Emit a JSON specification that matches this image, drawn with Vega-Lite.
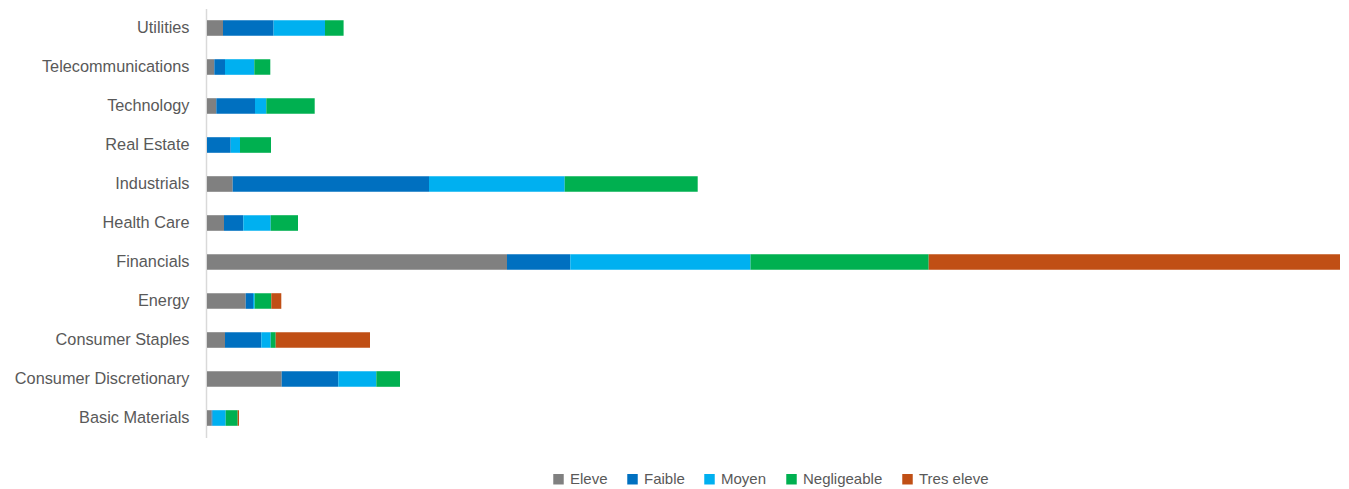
{
  "$schema": "https://vega.github.io/schema/vega-lite/v6.json",
  "width": 1134,
  "height": 429,
  "autosize": {"type": "none"},
  "padding": {"left": 206, "top": 8.5, "right": 9, "bottom": 51.5},
  "background": "white",
  "config": {
    "view": {"stroke": null},
    "font": "Liberation Sans"
  },
  "data": {
    "values": [
      {"sector": "Utilities", "risk": "Eleve", "value": 16},
      {"sector": "Utilities", "risk": "Faible", "value": 50.6},
      {"sector": "Utilities", "risk": "Moyen", "value": 51.4},
      {"sector": "Utilities", "risk": "Negligeable", "value": 18.6},
      {"sector": "Telecommunications", "risk": "Eleve", "value": 7.3},
      {"sector": "Telecommunications", "risk": "Faible", "value": 10.7},
      {"sector": "Telecommunications", "risk": "Moyen", "value": 29.3},
      {"sector": "Telecommunications", "risk": "Negligeable", "value": 16},
      {"sector": "Technology", "risk": "Eleve", "value": 9.3},
      {"sector": "Technology", "risk": "Faible", "value": 38.7},
      {"sector": "Technology", "risk": "Moyen", "value": 11.3},
      {"sector": "Technology", "risk": "Negligeable", "value": 48.4},
      {"sector": "Real Estate", "risk": "Faible", "value": 23.7},
      {"sector": "Real Estate", "risk": "Moyen", "value": 9.3},
      {"sector": "Real Estate", "risk": "Negligeable", "value": 31},
      {"sector": "Industrials", "risk": "Eleve", "value": 25.7},
      {"sector": "Industrials", "risk": "Faible", "value": 196.3},
      {"sector": "Industrials", "risk": "Moyen", "value": 135.7},
      {"sector": "Industrials", "risk": "Negligeable", "value": 133},
      {"sector": "Health Care", "risk": "Eleve", "value": 17},
      {"sector": "Health Care", "risk": "Faible", "value": 19.3},
      {"sector": "Health Care", "risk": "Moyen", "value": 27.4},
      {"sector": "Health Care", "risk": "Negligeable", "value": 27.3},
      {"sector": "Financials", "risk": "Eleve", "value": 300},
      {"sector": "Financials", "risk": "Faible", "value": 63.3},
      {"sector": "Financials", "risk": "Moyen", "value": 180.2},
      {"sector": "Financials", "risk": "Negligeable", "value": 178.2},
      {"sector": "Financials", "risk": "Tres eleve", "value": 411.3},
      {"sector": "Energy", "risk": "Eleve", "value": 38.7},
      {"sector": "Energy", "risk": "Faible", "value": 7.3},
      {"sector": "Energy", "risk": "Moyen", "value": 1.7},
      {"sector": "Energy", "risk": "Negligeable", "value": 16.6},
      {"sector": "Energy", "risk": "Tres eleve", "value": 10},
      {"sector": "Consumer Staples", "risk": "Eleve", "value": 18},
      {"sector": "Consumer Staples", "risk": "Faible", "value": 36.3},
      {"sector": "Consumer Staples", "risk": "Moyen", "value": 9.4},
      {"sector": "Consumer Staples", "risk": "Negligeable", "value": 5},
      {"sector": "Consumer Staples", "risk": "Tres eleve", "value": 94.3},
      {"sector": "Consumer Discretionary", "risk": "Eleve", "value": 74.7},
      {"sector": "Consumer Discretionary", "risk": "Faible", "value": 56.6},
      {"sector": "Consumer Discretionary", "risk": "Moyen", "value": 38},
      {"sector": "Consumer Discretionary", "risk": "Negligeable", "value": 23.7},
      {"sector": "Basic Materials", "risk": "Eleve", "value": 4.7},
      {"sector": "Basic Materials", "risk": "Faible", "value": 1},
      {"sector": "Basic Materials", "risk": "Moyen", "value": 13},
      {"sector": "Basic Materials", "risk": "Negligeable", "value": 12},
      {"sector": "Basic Materials", "risk": "Tres eleve", "value": 1.3}
    ]
  },
  "mark": {"type": "bar"},
  "encoding": {
    "y": {
      "field": "sector",
      "type": "nominal",
      "sort": "descending",
      "scale": {"paddingInner": 0.6, "paddingOuter": 0.3},
      "axis": {
        "title": null,
        "ticks": false,
        "domainColor": "#d9d9d9",
        "domainWidth": 1.5,
        "labelPadding": 17,
        "labelFontSize": 16.3,
        "labelColor": "#595959",
        "labelFont": "Liberation Sans"
      }
    },
    "x": {
      "field": "value",
      "type": "quantitative",
      "aggregate": "sum",
      "stack": "zero",
      "scale": {"domain": [-1, 1133], "nice": false, "zero": false},
      "axis": null
    },
    "color": {
      "field": "risk",
      "type": "nominal",
      "scale": {
        "domain": ["Eleve", "Faible", "Moyen", "Negligeable", "Tres eleve"],
        "range": ["#808080", "#0070C0", "#00B0F0", "#00B050", "#C04F15"]
      },
      "legend": {
        "title": null,
        "orient": "none",
        "direction": "horizontal",
        "legendX": 345,
        "legendY": 463,
        "symbolType": "square",
        "symbolSize": 110,
        "symbolStrokeWidth": 0,
        "labelFontSize": 15,
        "labelColor": "#595959",
        "labelFont": "Liberation Sans",
        "columnPadding": 17,
        "labelOffset": 4
      }
    }
  }
}
